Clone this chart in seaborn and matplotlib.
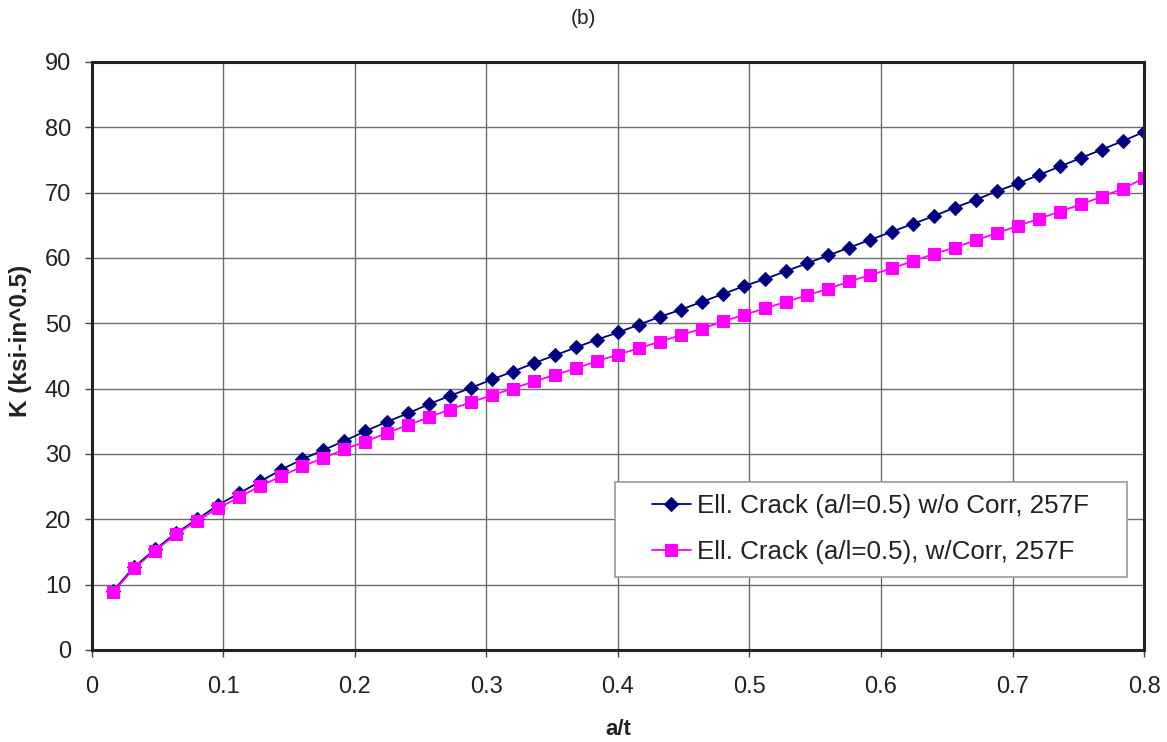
import numpy as np
import pandas as pd
import matplotlib
matplotlib.use("Agg")
import matplotlib.pyplot as plt
from matplotlib.patches import Rectangle
import seaborn as sns

# crack depth ratio a/t
a_t = [round(0.016 * i, 3) for i in range(1, 51)]

# stress intensity factor, elliptical crack without correction
k_no_corr = [9.0, 12.7, 15.4, 17.9, 20.0, 22.2, 24.0, 25.8, 27.6, 29.2,
             30.6, 32.0, 33.5, 34.9, 36.2, 37.6, 38.9, 40.1, 41.4, 42.6,
             43.9, 45.1, 46.3, 47.5, 48.6, 49.8, 51.0, 52.1, 53.3, 54.5,
             55.7, 56.8, 58.0, 59.2, 60.4, 61.6, 62.8, 64.0, 65.2, 66.4,
             67.7, 68.9, 70.2, 71.4, 72.7, 74.0, 75.3, 76.6, 77.9, 79.3]

# stress intensity factor, elliptical crack with correction
k_corr = [8.8, 12.5, 15.2, 17.7, 19.8, 21.7, 23.4, 25.1, 26.6, 28.1,
          29.4, 30.7, 31.9, 33.2, 34.4, 35.6, 36.8, 37.9, 39.0, 40.0,
          41.1, 42.1, 43.1, 44.2, 45.2, 46.2, 47.2, 48.2, 49.2, 50.3,
          51.3, 52.3, 53.3, 54.3, 55.3, 56.4, 57.4, 58.4, 59.5, 60.6,
          61.6, 62.7, 63.8, 64.9, 66.0, 67.1, 68.2, 69.4, 70.6, 72.2]

labels = ["Ell. Crack (a/l=0.5) w/o Corr, 257F",
          "Ell. Crack (a/l=0.5), w/Corr, 257F"]

sns.set_style("white")
plt.rcParams["font.family"] = ["Liberation Sans", "DejaVu Sans"]

fig = plt.figure(figsize=(11.67, 7.42), dpi=100)
ax = fig.add_axes([0.0788, 0.124, 0.9015, 0.7925])

sns.lineplot(x=a_t, y=k_no_corr, ax=ax, color="#000080", marker="D",
             markersize=7, markeredgecolor="#000080", linewidth=1.3,
             label=labels[0])
sns.lineplot(x=a_t, y=k_corr, ax=ax, color="#FF00FF", marker="s",
             markersize=9, markeredgecolor="#FF00FF", linewidth=1.3,
             label=labels[1])

ax.set_xlim(0, 0.8)
ax.set_ylim(0, 90)
ax.set_xticks(np.arange(0, 0.81, 0.1))
ax.set_xticklabels(["0", "0.1", "0.2", "0.3", "0.4", "0.5", "0.6", "0.7", "0.8"])
ax.set_yticks(np.arange(0, 91, 10))
ax.grid(True, color="#6e6e6e", linewidth=1.0)
ax.set_axisbelow(True)

for sp in ax.spines.values():
    sp.set_color("#222222")
    sp.set_linewidth(2.2)

ax.tick_params(axis="both", which="both", direction="out", length=5,
               width=1, color="#444444", labelsize=17, labelcolor="#222222",
               bottom=True, left=True)
ax.tick_params(axis="x", pad=14)
ax.tick_params(axis="y", pad=10)

ax.set_xlabel("a/t", fontsize=16, fontweight="bold", color="#222222")
ax.xaxis.set_label_coords(0.5, -0.117)
ax.set_ylabel("K (ksi-in^0.5)", fontsize=17.5, fontweight="bold", color="#222222")
ax.yaxis.set_label_coords(-0.057, 0.525)
fig.text(583 / 1167, 1 - 18 / 742, "(b)", fontsize=15, ha="center",
         va="center", color="#222222")

# legend box with extra room on the left of the keys
ax.add_patch(Rectangle((0.4971, 0.1241), 0.4867, 0.1616,
                       transform=ax.transAxes, facecolor="white",
                       edgecolor="#999999", linewidth=1.2, zorder=4,
                       clip_on=False))
leg = ax.legend(loc="upper left", bbox_to_anchor=(0.5323, 0.2653),
                fontsize=18.7, frameon=False, borderpad=0,
                labelspacing=0.85, handlelength=1.5, handletextpad=0.25,
                borderaxespad=0)
leg.set_zorder(5)
for t in leg.get_texts():
    t.set_color("#222222")

fig.savefig("out.png", dpi=100)
